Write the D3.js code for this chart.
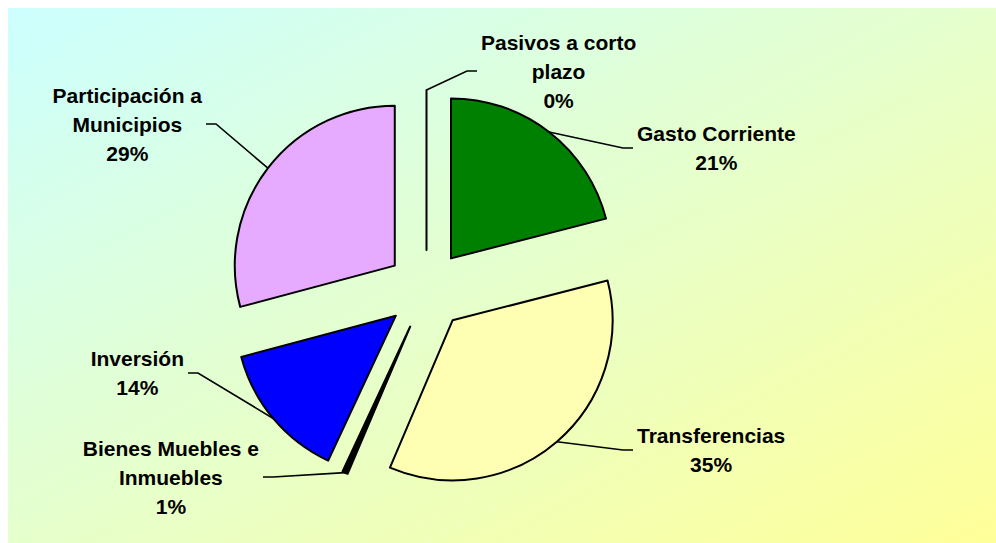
<!DOCTYPE html>
<html>
<head>
<meta charset="utf-8">
<script src="https://cdn.jsdelivr.net/npm/d3@7"></script>
<style>
  body { margin: 0; background: #fff; }
  text { font-family: "Liberation Sans", Arial, sans-serif; font-weight: bold; font-size: 21px; fill: #000; }
</style>
</head>
<body>
<svg id="chart" width="996" height="543"></svg>
<script>
// -- data -- //
const categories = ["Gasto Corriente", "Transferencias", "Bienes Muebles e Inmuebles",
                    "Inversión", "Participación a Municipios", "Pasivos a corto plazo"];
const shares = [21.0, 35.4, 0.55, 13.9, 29.15, 0.0];
const labelLines = [["Gasto Corriente"], ["Transferencias"], ["Bienes Muebles e", "Inmuebles"],
                    ["Inversión"], ["Participación a", "Municipios"], ["Pasivos a corto", "plazo"]];
const colors = ["#008000", "#ffffb3", "#000000", "#0000ff", "#e6aaff", "#ffffff"];

// -- where each leader line ends (label side) -- //
const leaderEnds = [
  {x: 633, y: 148, side: "right"},
  {x: 633, y: 450, side: "right"},
  {x: 263, y: 477, side: "left"},
  {x: 188, y: 373, side: "left"},
  {x: 206, y: 124, side: "left"},
  {x: 477, y: 71,  side: "right"}
];

const svg = d3.select("#chart");
const cx = 426.5, cy = 290, radius = 160, explode = 40, lineStep = 29;

// -- background gradient -- //
const grad = svg.append("defs").append("linearGradient")
  .attr("id", "bg").attr("x1", 0).attr("y1", 0).attr("x2", 1).attr("y2", 1);
grad.append("stop").attr("offset", "0%").attr("stop-color", "#ccffff");
grad.append("stop").attr("offset", "100%").attr("stop-color", "#ffff99");
svg.append("rect").attr("x", 8).attr("y", 8).attr("width", 988).attr("height", 535)
  .attr("fill", "url(#bg)");

const data = categories.map((c, i) => ({name: c, value: shares[i], i: i}));
const pie = d3.pie().sort(null).value(d => d.value);
const arc = d3.arc().innerRadius(0).outerRadius(radius);
const arcs = pie(data);

let offset = d => {
  let a = (d.startAngle + d.endAngle) / 2;
  return [explode * Math.sin(a), -explode * Math.cos(a)];
};

const g = svg.append("g").attr("transform", `translate(${cx},${cy})`);

// -- draw slices -- //
g.selectAll(".slice")
  .data(arcs)
  .enter()
  .append("path")
  .attr("class", "slice")
  .attr("d", arc)
  .attr("transform", d => `translate(${offset(d)})`)
  .style("fill", d => colors[d.data.i])
  .style("stroke", "#000")
  .style("stroke-width", 2)
  .style("stroke-linejoin", "round");

// -- leader lines -- //
arcs.forEach(d => {
  let a = (d.startAngle + d.endAngle) / 2;
  let o = offset(d);
  let sx = cx + o[0] + radius * Math.sin(a);
  let sy = cy + o[1] - radius * Math.cos(a);
  let e = leaderEnds[d.data.i];
  let ex = e.side === "right" ? e.x - 10 : e.x + 10;
  svg.append("path")
    .attr("d", `M${sx},${sy}L${ex},${e.y}L${e.x},${e.y}`)
    .style("fill", "none")
    .style("stroke", "#000")
    .style("stroke-width", 1.6);
});

// -- labels -- //
arcs.forEach(d => {
  let e = leaderEnds[d.data.i];
  let lines = labelLines[d.data.i].concat([Math.round(d.data.value) + "%"]);
  let lg = svg.append("g");
  let texts = lines.map((t, k) => lg.append("text")
    .attr("text-anchor", "middle")
    .attr("dominant-baseline", "central")
    .attr("y", e.y + (k - (lines.length - 1) / 2) * lineStep)
    .text(t));
  let w = d3.max(texts, t => t.node().getComputedTextLength());
  let x = e.side === "right" ? e.x + 4 + w / 2 : e.x - 4 - w / 2;
  texts.forEach(t => t.attr("x", x));
});
</script>
</body>
</html>
